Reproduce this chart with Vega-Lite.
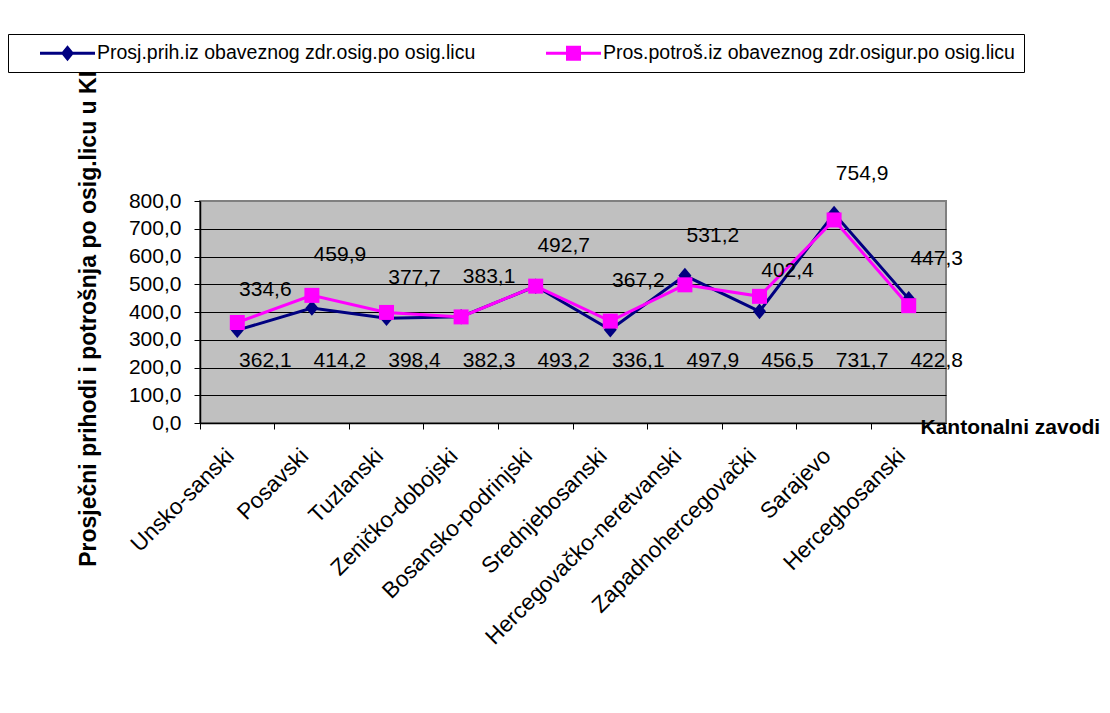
{
  "$schema": "https://vega.github.io/schema/vega-lite/v6.json",
  "width": 746,
  "height": 222,
  "autosize": {"type": "none"},
  "padding": {"left": 200, "top": 201, "right": 164, "bottom": 290},
  "background": "white",
  "config": {
    "locale": {
      "number": {"decimal": ",", "thousands": ".", "grouping": [3], "currency": ["", " KM"]}
    },
    "font": "Liberation Sans",
    "view": {"fill": "#C0C0C0", "stroke": "#808080", "strokeWidth": 2},
    "axis": {
      "labelColor": "black",
      "labelFont": "Liberation Sans",
      "titleColor": "black",
      "titleFont": "Liberation Sans",
      "titleFontWeight": "bold",
      "tickColor": "black",
      "tickSize": 6,
      "domainColor": "black",
      "domainWidth": 1.5
    }
  },
  "datasets": {
    "zavodi": [
      {"kanton": "Unsko-sanski", "serija": "Prosj.prih.iz obaveznog zdr.osig.po osig.licu", "vrijednost": 334.6},
      {"kanton": "Posavski", "serija": "Prosj.prih.iz obaveznog zdr.osig.po osig.licu", "vrijednost": 414.2},
      {"kanton": "Tuzlanski", "serija": "Prosj.prih.iz obaveznog zdr.osig.po osig.licu", "vrijednost": 377.7},
      {"kanton": "Zeničko-dobojski", "serija": "Prosj.prih.iz obaveznog zdr.osig.po osig.licu", "vrijednost": 383.1},
      {"kanton": "Bosansko-podrinjski", "serija": "Prosj.prih.iz obaveznog zdr.osig.po osig.licu", "vrijednost": 492.7},
      {"kanton": "Srednjebosanski", "serija": "Prosj.prih.iz obaveznog zdr.osig.po osig.licu", "vrijednost": 336.1},
      {"kanton": "Hercegovačko-neretvanski", "serija": "Prosj.prih.iz obaveznog zdr.osig.po osig.licu", "vrijednost": 531.2},
      {"kanton": "Zapadnohercegovački", "serija": "Prosj.prih.iz obaveznog zdr.osig.po osig.licu", "vrijednost": 402.4},
      {"kanton": "Sarajevo", "serija": "Prosj.prih.iz obaveznog zdr.osig.po osig.licu", "vrijednost": 754.9},
      {"kanton": "Hercegbosanski", "serija": "Prosj.prih.iz obaveznog zdr.osig.po osig.licu", "vrijednost": 447.3},
      {"kanton": "Unsko-sanski", "serija": "Pros.potroš.iz obaveznog zdr.osigur.po osig.licu", "vrijednost": 362.1},
      {"kanton": "Posavski", "serija": "Pros.potroš.iz obaveznog zdr.osigur.po osig.licu", "vrijednost": 459.9},
      {"kanton": "Tuzlanski", "serija": "Pros.potroš.iz obaveznog zdr.osigur.po osig.licu", "vrijednost": 398.4},
      {"kanton": "Zeničko-dobojski", "serija": "Pros.potroš.iz obaveznog zdr.osigur.po osig.licu", "vrijednost": 382.3},
      {"kanton": "Bosansko-podrinjski", "serija": "Pros.potroš.iz obaveznog zdr.osigur.po osig.licu", "vrijednost": 493.2},
      {"kanton": "Srednjebosanski", "serija": "Pros.potroš.iz obaveznog zdr.osigur.po osig.licu", "vrijednost": 367.2},
      {"kanton": "Hercegovačko-neretvanski", "serija": "Pros.potroš.iz obaveznog zdr.osigur.po osig.licu", "vrijednost": 497.9},
      {"kanton": "Zapadnohercegovački", "serija": "Pros.potroš.iz obaveznog zdr.osigur.po osig.licu", "vrijednost": 456.5},
      {"kanton": "Sarajevo", "serija": "Pros.potroš.iz obaveznog zdr.osigur.po osig.licu", "vrijednost": 731.7},
      {"kanton": "Hercegbosanski", "serija": "Pros.potroš.iz obaveznog zdr.osigur.po osig.licu", "vrijednost": 422.8}
    ]
  },
  "data": {"name": "zavodi"},
  "encoding": {
    "x": {
      "field": "kanton",
      "type": "nominal",
      "sort": null,
      "scale": {"type": "band", "paddingInner": 0, "paddingOuter": 0},
      "axis": {
        "title": "Kantonalni zavodi",
        "titleFontSize": 21,
        "titleAngle": 0,
        "titleAlign": "left",
        "titleBaseline": "alphabetic",
        "titleX": 720,
        "titleY": 10,
        "bandPosition": 0,
        "labelOffset": -7,
        "labelAngle": -45,
        "labelAlign": "right",
        "labelBaseline": "middle",
        "labelFontSize": 22.5,
        "labelPadding": 23,
        "labelOverlap": false,
        "labelLimit": 400,
        "grid": false
      }
    },
    "y": {
      "field": "vrijednost",
      "type": "quantitative",
      "scale": {"domain": [0, 800], "nice": false, "zero": true},
      "axis": {
        "title": "Prosječni prihodi i potrošnja po osig.licu u KM",
        "titleFontSize": 23,
        "titlePadding": 28,
        "values": [0, 100, 200, 300, 400, 500, 600, 700, 800],
        "format": ".1f",
        "labelFontSize": 21,
        "labelPadding": 13,
        "grid": true,
        "gridColor": {"condition": {"test": "datum.value === 800", "value": "#808080"}, "value": "black"},
        "gridWidth": 1
      }
    }
  },
  "layer": [
    {
      "transform": [{"filter": "false"}],
      "mark": {"type": "point", "filled": true, "opacity": 1},
      "encoding": {
        "color": {
          "field": "serija",
          "type": "nominal",
          "scale": {
            "domain": ["Prosj.prih.iz obaveznog zdr.osig.po osig.licu", "Pros.potroš.iz obaveznog zdr.osigur.po osig.licu"],
            "range": ["#000080", "#FF00FF"]
          },
          "legend": {
            "title": null,
            "orient": "none",
            "legendX": -192,
            "legendY": -167,
            "direction": "horizontal",
            "columns": 2,
            "columnPadding": 47,
            "fillColor": "white",
            "strokeColor": "black",
            "padding": 9,
            "labelFont": "Liberation Sans",
            "labelFontSize": 19.5,
            "labelColor": "black",
            "labelLimit": 600,
            "labelOffset": 19.5,
            "symbolOffset": 40.5,
            "symbolSize": 400,
            "symbolStrokeWidth": 0,
            "symbolOpacity": 1,
            "zindex": 1
          }
        },
        "shape": {
          "field": "serija",
          "type": "nominal",
          "scale": {
            "domain": ["Prosj.prih.iz obaveznog zdr.osig.po osig.licu", "Pros.potroš.iz obaveznog zdr.osigur.po osig.licu"],
            "range": [
              "M-2.75,-0.15H2.75V0.15H-2.75Z M0,-0.8L0.65,0L0,0.8L-0.65,0Z",
              "M-2.75,-0.15H2.75V0.15H-2.75Z M-0.75,-0.75H0.75V0.75H-0.75Z"
            ]
          }
        }
      }
    },
    {
      "transform": [{"filter": "datum.serija === 'Prosj.prih.iz obaveznog zdr.osig.po osig.licu'"}],
      "mark": {"type": "line", "color": "#000080", "strokeWidth": 3},
      "encoding": {}
    },
    {
      "transform": [{"filter": "datum.serija === 'Prosj.prih.iz obaveznog zdr.osig.po osig.licu'"}],
      "mark": {"type": "point", "shape": "M0,-1.2L1,0L0,1.2L-1,0Z", "size": 169, "filled": true, "color": "#000080", "opacity": 1, "strokeWidth": 0},
      "encoding": {}
    },
    {
      "transform": [{"filter": "datum.serija === 'Pros.potroš.iz obaveznog zdr.osigur.po osig.licu'"}],
      "mark": {"type": "line", "color": "#FF00FF", "strokeWidth": 3},
      "encoding": {}
    },
    {
      "transform": [{"filter": "datum.serija === 'Pros.potroš.iz obaveznog zdr.osigur.po osig.licu'"}],
      "mark": {"type": "point", "shape": "square", "size": 225, "filled": true, "color": "#FF00FF", "opacity": 1, "strokeWidth": 0},
      "encoding": {}
    },
    {
      "transform": [{"filter": "(datum.serija === 'Prosj.prih.iz obaveznog zdr.osig.po osig.licu') !== (datum.kanton === 'Posavski' || datum.kanton === 'Srednjebosanski')"}],
      "mark": {"type": "text", "font": "Liberation Sans", "fontSize": 21, "color": "black", "align": "center", "baseline": "middle", "dx": 28, "dy": -40},
      "encoding": {
        "text": {"field": "vrijednost", "type": "quantitative", "format": ".1f"}
      }
    },
    {
      "transform": [{"filter": "(datum.serija === 'Prosj.prih.iz obaveznog zdr.osig.po osig.licu') === (datum.kanton === 'Posavski' || datum.kanton === 'Srednjebosanski')"}],
      "mark": {"type": "text", "font": "Liberation Sans", "fontSize": 21, "color": "black", "align": "center", "baseline": "middle", "dx": 28},
      "encoding": {
        "y": {"datum": 222, "type": "quantitative"},
        "text": {"field": "vrijednost", "type": "quantitative", "format": ".1f"}
      }
    }
  ]
}
